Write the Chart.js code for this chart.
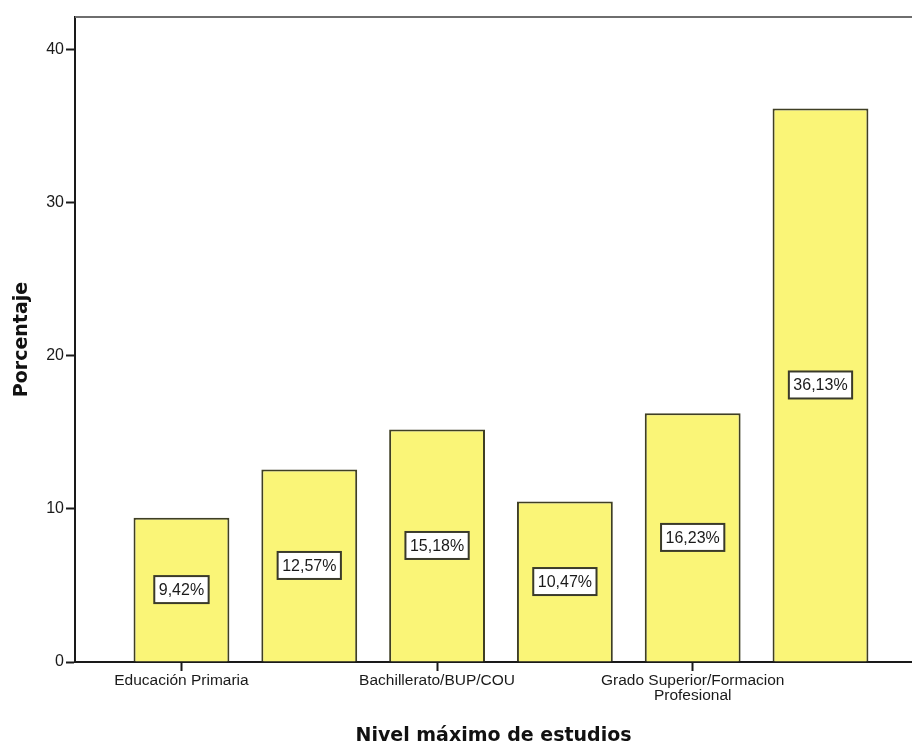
<!DOCTYPE html>
<html>
<head>
<meta charset="utf-8">
<script src="https://cdn.jsdelivr.net/npm/chart.js@4"></script>
<style>
  html, body { margin: 0; padding: 0; background: #ffffff; }
  #wrap { width: 912px; height: 742px; position: relative; }
</style>
</head>
<body>
<div id="wrap"><canvas id="c" width="912" height="742"></canvas></div>
<script>
// ---- data ----
const categories = ['Educación Primaria', '', 'Bachillerato/BUP/COU', '', ['Grado Superior/Formacion', 'Profesional'], ''];
const percentages = [9.42, 12.57, 15.18, 10.47, 16.23, 36.13];
const labeledTicks = [0, 2, 4];
const yTicks = [0, 10, 20, 30, 40];
const xTitle = 'Nivel máximo de estudios';
const yTitle = 'Porcentaje';

const points = percentages.map((v, i) => ({ x: i, y: v }));

const frameTop = {
  id: 'frameTop',
  afterDraw(chart) {
    const { ctx, chartArea } = chart;
    ctx.save();
    ctx.strokeStyle = '#6e6e6e';
    ctx.lineWidth = 2;
    ctx.beginPath();
    ctx.moveTo(chartArea.left, chartArea.top);
    ctx.lineTo(chartArea.right, chartArea.top);
    ctx.stroke();
    ctx.restore();
  }
};

const valueLabels = {
  id: 'valueLabels',
  afterDatasetsDraw(chart) {
    const { ctx } = chart;
    const meta = chart.getDatasetMeta(0);
    ctx.save();
    ctx.font = '16px "Liberation Sans", Arial, sans-serif';
    ctx.textAlign = 'center';
    ctx.textBaseline = 'middle';
    meta.data.forEach((bar, i) => {
      const txt = percentages[i].toFixed(2).replace('.', ',') + '%';
      const cx = bar.x;
      const cy = (bar.y + bar.base) / 2;
      const w = ctx.measureText(txt).width + 9;
      const h = 27;
      ctx.fillStyle = '#ffffff';
      ctx.fillRect(cx - w / 2, cy - h / 2, w, h);
      ctx.strokeStyle = '#3a3a2a';
      ctx.lineWidth = 2;
      ctx.strokeRect(cx - w / 2, cy - h / 2, w, h);
      ctx.fillStyle = '#1a1a1a';
      ctx.fillText(txt, cx, cy + 1);
    });
    ctx.restore();
  }
};

new Chart(document.getElementById('c'), {
  type: 'bar',
  data: {
    datasets: [{
      data: points,
      backgroundColor: '#faf577',
      borderColor: '#3f3f24',
      borderWidth: 2,
      borderSkipped: 'bottom',
      barPercentage: 0.75,
      categoryPercentage: 1.0
    }]
  },
  plugins: [frameTop, valueLabels],
  options: {
    responsive: false,
    animation: false,
    layout: { padding: { top: 17, right: 0, left: 0, bottom: 0 } },
    plugins: { legend: { display: false }, tooltip: { enabled: false } },
    scales: {
      x: {
        type: 'linear',
        min: -0.833,
        max: 5.716,
        offset: false,
        afterBuildTicks(scale) { scale.ticks = labeledTicks.map(v => ({ value: v })); },
        afterFit(scale) { scale.height = 80; },
        ticks: {
          autoSkip: false,
          maxRotation: 0,
          minRotation: 0,
          padding: 3,
          color: '#1a1a1a',
          font: { family: '"Liberation Sans", Arial, sans-serif', size: 15.5, lineHeight: 0.92 },
          callback: (v) => categories[Math.round(v)]
        },
        grid: { offset: false, drawOnChartArea: false, drawTicks: true, tickLength: 9, tickWidth: 2, color: '#1a1a1a' },
        border: { display: true, color: '#1a1a1a', width: 2 },
        title: {
          display: true,
          text: xTitle,
          color: '#111111',
          font: { family: '"DejaVu Sans", Verdana, sans-serif', size: 19, weight: 'bold' },
          padding: { top: 0, bottom: -5 }
        }
      },
      y: {
        min: 0,
        max: 42.1,
        afterBuildTicks(scale) { scale.ticks = yTicks.map(v => ({ value: v })); },
        afterFit(scale) { scale.width = 75; },
        ticks: {
          padding: 2,
          color: '#1a1a1a',
          font: { family: '"Liberation Sans", Arial, sans-serif', size: 16 }
        },
        grid: { drawOnChartArea: false, drawTicks: true, tickLength: 9, tickWidth: 2, color: '#1a1a1a' },
        border: { display: true, color: '#1a1a1a', width: 2 },
        title: {
          display: true,
          text: yTitle,
          color: '#111111',
          font: { family: '"DejaVu Sans", Verdana, sans-serif', size: 19, weight: 'bold' },
          padding: { top: 11, bottom: 0 }
        }
      }
    }
  }
});
</script>
</body>
</html>
